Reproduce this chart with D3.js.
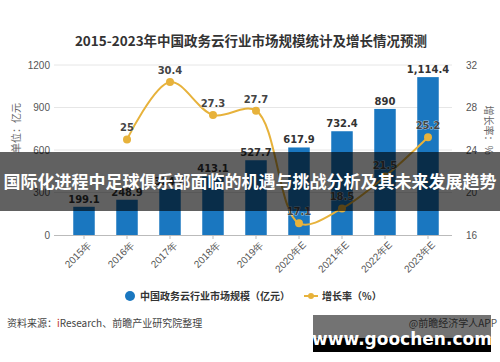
<!DOCTYPE html>
<html><head><meta charset="utf-8">
<script src="https://cdn.jsdelivr.net/npm/d3@7"></script>
<style>
html,body{margin:0;padding:0;background:#fff;}
svg{display:block;font-family:"Noto Sans CJK SC","Microsoft YaHei",sans-serif;}
</style></head>
<body>
<svg id="c" width="500" height="362"></svg>
<script>
const categories = ["2015年","2016年","2017年","2018年","2019年","2020年E","2021年E","2022年E","2023年E"];
const marketSize = [199.1, 248.9, 324.6, 413.1, 527.7, 617.9, 732.4, 890, 1114.4];
const sizeLabels = ["199.1","248.9","324.6","413.1","527.7","617.9","732.4","890","1,114.4"];
const growthCats = ["2016年","2017年","2018年","2019年","2020年E","2021年E","2022年E","2023年E"];
const growthRate = [25, 30.4, 27.3, 27.7, 17.1, 18.5, 21.5, 25.2];
const leftTicks = [0, 300, 600, 900, 1200];
const rightTicks = [16, 20, 24, 28, 32];

const svg = d3.select("#c");
const barColor = "#1a77c0", lineColor = "#e7b23b";

const x = d3.scaleBand().domain(categories).range([62.5, 449.5]).paddingInner(0.5).paddingOuter(0.25);
const yL = d3.scaleLinear().domain([0, 1200]).range([235, 65]);
const yR = d3.scaleLinear().domain([16, 32]).range([235, 65]);

// title
svg.append("text").attr("x", 251).attr("y", 46).attr("text-anchor", "middle")
  .attr("font-size", 13.5).attr("font-weight", "bold").attr("fill", "#333")
  .text("2015-2023年中国政务云行业市场规模统计及增长情况预测");

// gridlines
svg.append("g").selectAll("line").data(leftTicks.slice(1)).join("line")
  .attr("x1", 54).attr("x2", 452).attr("y1", d => yL(d)).attr("y2", d => yL(d))
  .attr("stroke", "#e6e6e6").attr("stroke-width", 1);

// left axis labels
const gL = svg.append("g").attr("transform", "translate(54,0)")
  .call(d3.axisLeft(yL).tickValues(leftTicks).tickFormat(d3.format("d")).tickSize(0).tickPadding(4));
gL.select(".domain").remove();
gL.selectAll("text").attr("font-size", 10).attr("fill", "#555").attr("font-family", "Liberation Sans, Arial, sans-serif");

// right axis labels
const gR = svg.append("g").attr("transform", "translate(462,0)")
  .call(d3.axisRight(yR).tickValues(rightTicks).tickSize(0).tickPadding(4));
gR.select(".domain").remove();
gR.selectAll("text").attr("font-size", 10).attr("fill", "#555").attr("font-family", "Liberation Sans, Arial, sans-serif");

// axis titles
svg.append("text").attr("transform", "translate(20,128) rotate(-90)").attr("text-anchor", "middle")
  .attr("font-size", 10).attr("fill", "#666").text("单位：亿元");
svg.append("text").attr("transform", "translate(485,130) rotate(90)").attr("text-anchor", "middle")
  .attr("font-size", 10).attr("fill", "#666").text("增长率：%");

// bars
svg.append("g").selectAll("rect").data(marketSize).join("rect")
  .attr("x", (d, i) => x(categories[i])).attr("width", x.bandwidth())
  .attr("y", d => yL(d)).attr("height", d => yL(0) - yL(d)).attr("fill", barColor);

// bar labels
svg.append("g").selectAll("text").data(marketSize).join("text")
  .attr("x", (d, i) => x(categories[i]) + x.bandwidth() / 2).attr("y", d => yL(d) - 4)
  .attr("text-anchor", "middle").attr("font-size", 10).attr("font-weight", "bold").attr("fill", "#333")
  .attr("font-family", "DejaVu Sans, sans-serif")
  .text((d, i) => sizeLabels[i]);

// x axis
const gX = svg.append("g").attr("transform", "translate(0,235)")
  .call(d3.axisBottom(x).tickSize(4).tickSizeOuter(0).tickPadding(3));
gX.select(".domain").attr("stroke", "#bbb").attr("d", "M54,0.5H452");
gX.selectAll(".tick line").attr("stroke", "#bbb");
gX.selectAll("text").attr("font-size", 10).attr("fill", "#555")
  .attr("text-anchor", "end").attr("transform", "rotate(-45)").attr("dx", "-0.2em").attr("dy", "0.6em");

// line
const pts = growthRate.map((v, i) => [x(growthCats[i]) + x.bandwidth() / 2, yR(v)]);
svg.append("path").datum(pts)
  .attr("d", d3.line().curve(d3.curveCatmullRom.alpha(0.5)))
  .attr("fill", "none").attr("stroke", lineColor).attr("stroke-width", 2);
svg.append("g").selectAll("circle").data(pts).join("circle")
  .attr("cx", d => d[0]).attr("cy", d => d[1]).attr("r", 4).attr("fill", lineColor);
svg.append("g").selectAll("text").data(growthRate).join("text")
  .attr("x", (d, i) => pts[i][0]).attr("y", (d, i) => pts[i][1] - 8)
  .attr("text-anchor", "middle").attr("font-size", 10).attr("font-weight", "bold").attr("fill", "#444")
  .attr("stroke", "#fff").attr("stroke-width", 0.6).attr("paint-order", "stroke")
  .attr("font-family", "DejaVu Sans, sans-serif")
  .text(d => d);

// legend
svg.append("circle").attr("cx", 130).attr("cy", 296).attr("r", 5).attr("fill", barColor);
svg.append("text").attr("x", 140).attr("y", 300).attr("font-size", 10).attr("font-weight", "bold").attr("fill", "#333")
  .text("中国政务云行业市场规模（亿元）");
svg.append("line").attr("x1", 304).attr("x2", 318).attr("y1", 296).attr("y2", 296).attr("stroke", lineColor).attr("stroke-width", 2);
svg.append("circle").attr("cx", 311).attr("cy", 296).attr("r", 3).attr("fill", lineColor);
svg.append("text").attr("x", 322).attr("y", 300).attr("font-size", 10).attr("font-weight", "bold").attr("fill", "#333")
  .text("增长率（%）");

// source
const src = svg.append("text").attr("x", 7).attr("y", 327).attr("font-size", 10).attr("fill", "#444");
src.append("tspan").text("资料来源：");
src.append("tspan").attr("fill", "#c0392b").text("i");
src.append("tspan").text("Research、前瞻产业研究院整理");

// overlay band
svg.append("rect").attr("x", 0).attr("y", 152).attr("width", 500).attr("height", 59)
  .attr("fill", "#000").attr("opacity", 0.62);
svg.append("text").attr("x", 250).attr("y", 188).attr("text-anchor", "middle")
  .attr("font-size", 17).attr("font-weight", "bold").attr("fill", "#fff")
  .text("国际化进程中足球俱乐部面临的机遇与挑战分析及其未来发展趋势");

// watermark box
svg.append("text").attr("x", 497).attr("y", 327).attr("text-anchor", "end").attr("font-size", 10).attr("fill", "#555")
  .text("@前瞻经济学人APP");
svg.append("rect").attr("x", 313).attr("y", 315).attr("width", 178).attr("height", 23).attr("fill", "#000").attr("opacity", 0.55);
svg.append("rect").attr("x", 313).attr("y", 338).attr("width", 178).attr("height", 14).attr("fill", "#000");
svg.append("text").attr("x", 402).attr("y", 345).attr("text-anchor", "middle")
  .attr("font-size", 17).attr("font-weight", "bold").attr("fill", "#fff")
  .attr("font-family", "DejaVu Sans, Verdana, sans-serif")
  .text("www.goochen.com");
</script>
</body></html>
